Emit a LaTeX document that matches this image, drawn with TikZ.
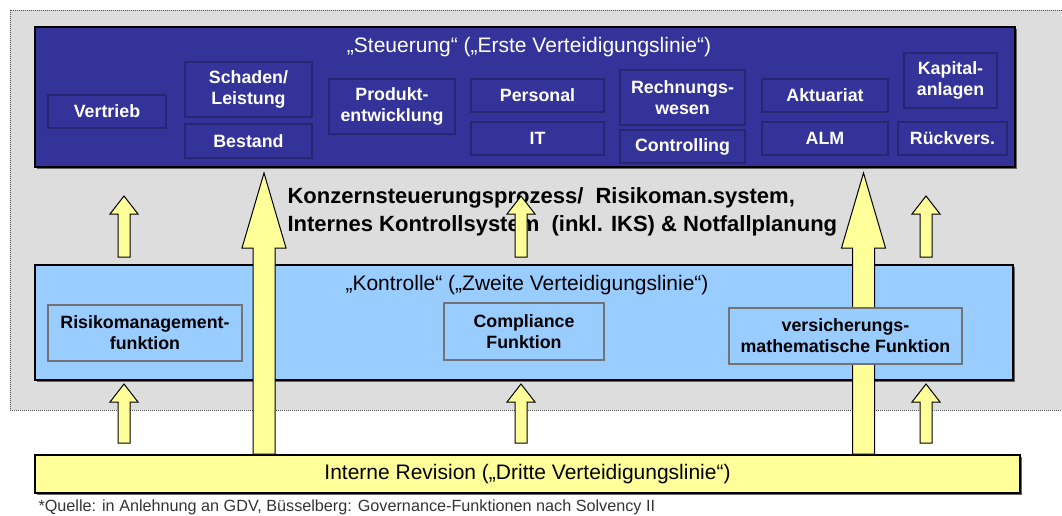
\documentclass[tikz,border=0pt]{standalone}
\usepackage{fontspec}
\setmainfont{Liberation Sans}
\usetikzlibrary{calc,shadows}
\definecolor{steublau}{HTML}{333399}
\definecolor{kontrblau}{HTML}{99CCFF}
\definecolor{revgelb}{HTML}{FFFF99}
\definecolor{hgrau}{HTML}{DDDDDD}
\newcommand{\bxfont}{\fontsize{17.8}{21}\selectfont\bfseries}
\newcommand{\titfont}{\fontsize{21}{24}\selectfont}

\begin{document}
\begin{tikzpicture}[x=1pt,y=-1pt,
  linie/.style={draw=black,line width=2pt,drop shadow={shadow xshift=1.5pt,shadow yshift=-1.5pt,fill=black!60,opacity=1}},
  sbox/.style={draw=steublau!75!black,line width=1.2pt,fill=steublau,text=white,align=center,font=\bxfont,inner sep=2pt},
  kbox/.style={draw=black!55,line width=1.2pt,fill=kontrblau,align=center,font=\bxfont,inner sep=2pt,
    drop shadow={shadow xshift=1pt,shadow yshift=-1pt,fill=black!70,opacity=1}},
  pfeil/.style args={#1/#2/#3}{draw=black,line width=1pt,fill=revgelb,
    to path={let \p1=(\tikztostart),\p2=(\tikztotarget) in
      (\x1-#1,\y1) -- (\x1-#1,\y2-#3) -- (\x1-#2,\y2-#3) -- (\x1,\y2)
      -- (\x1+#2,\y2-#3) -- (\x1+#1,\y2-#3) -- (\x1+#1,\y1) -- cycle}}]
  \useasboundingbox (0,0) rectangle (1062,515);
  % grauer Hintergrund
  \fill[hgrau] (10,10) rectangle (1062,410);
  \draw[densely dotted,black!70,line width=1pt] (1062,10) -- (10,10) -- (10,410) -- (1062,410);

  % erste Linie
  \node[linie,fill=steublau,minimum width=980pt,minimum height=140pt] (steu) at (525,97) {};
  \node[font=\titfont,text=white] (steut) at (529,47) {„Steuerung“ („Erste Verteidigungslinie“)};
  \node[sbox,minimum width=118pt,minimum height=33pt] (vertr) at (107,111.5) {Vertrieb};
  \node[sbox,minimum width=127pt,minimum height=55pt] (schad) at (248.5,89.5) {Schaden/\\Leistung};
  \node[sbox,minimum width=127pt,minimum height=34pt] (best) at (248.5,141) {Bestand};
  \node[sbox,minimum width=126pt,minimum height=55pt] (prod) at (392,106.5) {Produkt-\\entwicklung};
  \node[sbox,minimum width=133pt,minimum height=33pt] (pers) at (537.5,95.5) {Personal};
  \node[sbox,minimum width=133pt,minimum height=33pt] (it) at (537.5,138.5) {IT};
  \node[sbox,minimum width=125pt,minimum height=55pt] (rech) at (682.5,97.5) {Rechnungs-\\wesen};
  \node[sbox,minimum width=125pt,minimum height=33pt] (contr) at (682.5,146.5) {Controlling};
  \node[sbox,minimum width=126pt,minimum height=33pt] (akt) at (825,95.5) {Aktuariat};
  \node[sbox,minimum width=126pt,minimum height=33pt] (alm) at (825,138.5) {ALM};
  \node[sbox,minimum width=93pt,minimum height=55pt] (kap) at (950.5,80.5) {Kapital-\\anlagen};
  \node[sbox,minimum width=109pt,minimum height=33pt] (rueck) at (952.5,138.5) {Rückvers.};

  % zweite Linie
  \node[linie,fill=kontrblau,minimum width=978pt,minimum height=115pt] (kontr) at (524,322.5) {};
  \node[font=\titfont] (kontrt) at (527,285) {„Kontrolle“ („Zweite Verteidigungslinie“)};

  % dritte Linie
  \node[linie,fill=revgelb,minimum width=985pt,minimum height=38pt,font=\titfont] (rev) at (527.5,474)
    {Interne Revision („Dritte Verteidigungslinie“)};
  \node[anchor=west,font=\fontsize{16.2}{18}\selectfont,text=black!80] (quelle) at (35,507)
    {*Quelle: in Anlehnung an GDV, Büsselberg: Governance-Funktionen nach Solvency II};

  \node[anchor=west,align=left,font=\fontsize{22}{28}\selectfont\bfseries] (proz) at (284,212)
    {Konzernsteuerungsprozess/\ \ Risikoman.system,\\Internes Kontrollsystem\ \ (inkl. IKS) \& Notfallplanung};

  % Pfeile
  \coordinate (gl) at (264,0);
  \coordinate (gr) at (863.5,0);
  \coordinate (kl) at (124,0);
  \coordinate (km) at (521,0);
  \coordinate (kr) at (926,0);
  \foreach \s in {gl,gr}
    \draw[pfeil=11pt/22pt/75pt] (rev.north -| \s) to ($(steu.south -| \s)+(0,5)$);

  \node[kbox,minimum width=194pt,minimum height=56pt] (risk) at (145,333) {Risikomanagement-\\funktion};
  \node[kbox,minimum width=160pt,minimum height=57pt] (compl) at (524,331.5) {Compliance\\Funktion};
  \node[kbox,minimum width=233pt,minimum height=56pt] (vma) at (845.5,336) {versicherungs-\\mathematische Funktion};

  \foreach \s in {kl,km,kr} {
    \draw[pfeil=6pt/14pt/18pt] ($(kontr.north -| \s)+(0,-7)$) to ($(steu.south -| \s)+(0,28)$);
    \draw[pfeil=6pt/14pt/18pt] ($(rev.north -| \s)+(0,-11)$) to ($(kontr.south -| \s)+(0,3)$);
  }
\end{tikzpicture}
\end{document}
